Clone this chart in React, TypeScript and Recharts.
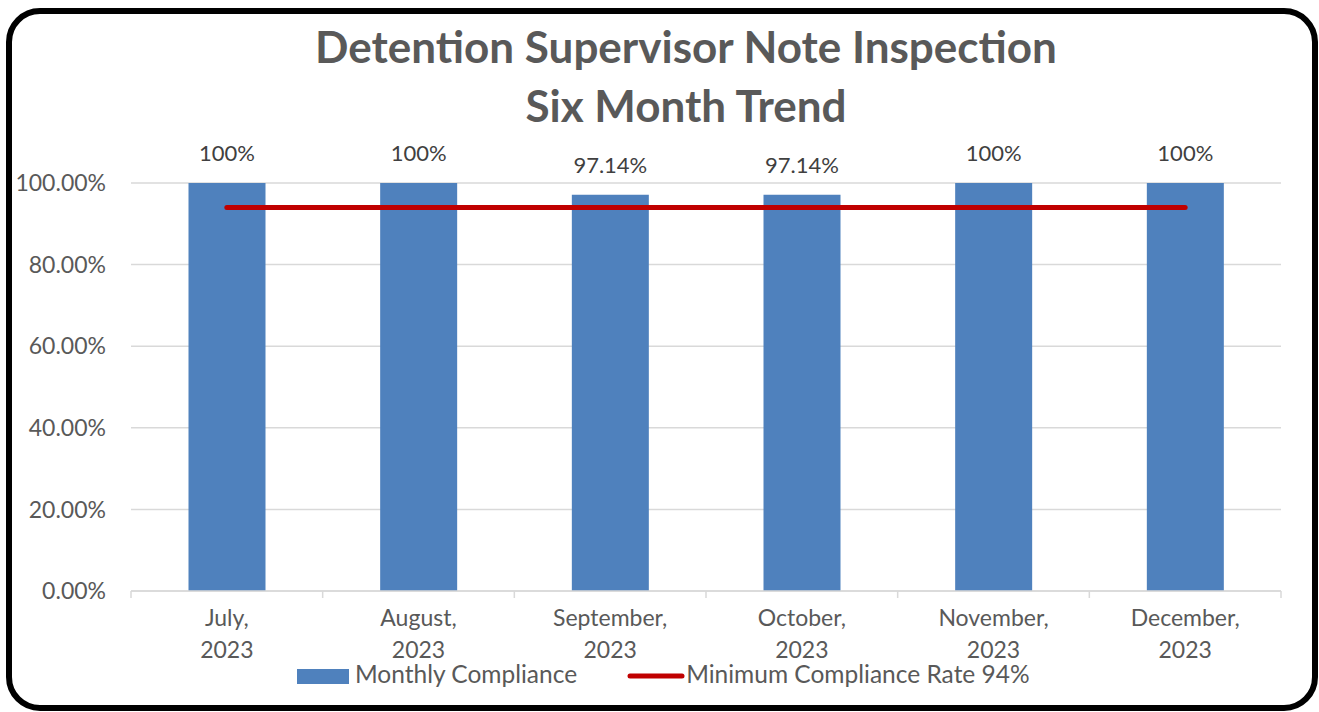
import { ComposedChart, Bar, Line, XAxis, YAxis, CartesianGrid, Legend, LabelList } from 'recharts'

const months = ['July, 2023', 'August, 2023', 'September, 2023', 'October, 2023', 'November, 2023', 'December, 2023']
const compliance = [1, 1, 0.9714, 0.9714, 1, 1]
const minimumRate = [0.94, 0.94, 0.94, 0.94, 0.94, 0.94]
const yTicks = [0, 0.2, 0.4, 0.6, 0.8, 1]

const data = months.map((m, i) => ({ month: m, compliance: compliance[i], minimum: minimumRate[i] }))

const FONT = 'Lato, "Open Sans", sans-serif'
const GRAY = '#595959'
const GRID = '#d9d9d9'

const pct2 = (v: number) => (v * 100).toFixed(2) + '%'
const dataLabel = (v: number) => (v === 1 ? '100%' : pct2(v))

function MonthTick(props: any) {
    const { x, y, payload, index, visibleTicksCount } = props
    const half = payload?.offset ?? 0
    const [first, second] = String(payload.value).split(' ')
    const isLast = index === visibleTicksCount - 1
    return (
        <g>
            <line x1={x - half} x2={x - half} y1={y} y2={y + 7} stroke={GRID} strokeWidth={1.5} />
            {isLast && <line x1={x + half} x2={x + half} y1={y} y2={y + 7} stroke={GRID} strokeWidth={1.5} />}
            <text x={x} y={y + 35} textAnchor="middle" fill={GRAY} fontSize={23} fontFamily={FONT}>{first}</text>
            <text x={x} y={y + 67} textAnchor="middle" fill={GRAY} fontSize={23} fontFamily={FONT}>{second}</text>
        </g>
    )
}

function LegendContent(props: any) {
    // bar first, then the line, like the original
    const items = [...(props.payload || [])].sort((a: any, b: any) => (a.type === 'line' ? 1 : 0) - (b.type === 'line' ? 1 : 0))
    return (
        <div style={{ display: 'flex', alignItems: 'flex-start', fontFamily: FONT, fontSize: 24.5, lineHeight: '30px', color: GRAY, whiteSpace: 'nowrap' }}>
            {items.map((item: any) => (
                <div key={item.value} style={{ display: 'flex', alignItems: 'flex-start', marginRight: 50 }}>
                    {item.type === 'line' ? (
                        <svg width={58} height={30} style={{ marginRight: 1 }}>
                            <line x1={3} x2={55} y1={17} y2={17} stroke={item.color} strokeWidth={5} strokeLinecap="round" />
                        </svg>
                    ) : (
                        <svg width={52} height={30} style={{ marginRight: 6 }}>
                            <rect x={0} y={10} width={52} height={15} fill={item.color} />
                        </svg>
                    )}
                    <span>{item.value}</span>
                </div>
            ))}
        </div>
    )
}

const titleStyle = {
    position: 'absolute' as const,
    left: 0,
    width: 1372,
    textAlign: 'center' as const,
    fontFamily: FONT,
    fontWeight: 700,
    fontSize: 44,
    lineHeight: '53px',
    color: GRAY,
    whiteSpace: 'nowrap' as const,
}

export default function App() {
    return (
        <div style={{ position: 'absolute', left: 0, top: 0, width: 1319, height: 712, background: '#fff' }}>
            <div
                style={{
                    position: 'absolute', left: 6, top: 8, width: 1312, height: 703,
                    border: '6px solid #000', borderRadius: 34, boxSizing: 'border-box',
                }}
            />
            <div style={{ ...titleStyle, top: 20 }}>Detention Supervisor Note Inspection</div>
            <div style={{ ...titleStyle, top: 79 }}>Six Month Trend</div>
            <div style={{ position: 'absolute', left: 0, top: 0 }}>
                <ComposedChart
                    width={1319}
                    height={712}
                    data={data}
                    margin={{ top: 183, right: 38, left: 0, bottom: 41 }}
                    barCategoryGap="30%"
                >
                    <CartesianGrid vertical={false} stroke={GRID} strokeWidth={1.5} />
                    <XAxis
                        dataKey="month"
                        height={80}
                        tickSize={0}
                        tickMargin={0}
                        tickLine={false}
                        axisLine={{ stroke: GRID, strokeWidth: 1.5 }}
                        tick={<MonthTick />}
                        interval={0}
                    />
                    <YAxis
                        width={131}
                        domain={[0, 1]}
                        ticks={yTicks}
                        tickFormatter={pct2}
                        tickSize={0}
                        tickMargin={25}
                        axisLine={false}
                        tickLine={false}
                        tick={{ fill: GRAY, fontSize: 23, fontFamily: FONT }}
                    />
                    <Legend
                        layout="horizontal"
                        verticalAlign="middle"
                        align="center"
                        wrapperStyle={{ left: 297, top: 659, width: 'auto' }}
                        content={<LegendContent />}
                    />
                    <Bar dataKey="compliance" name="Monthly Compliance" fill="#4f81bd" isAnimationActive={false}>
                        <LabelList
                            dataKey="compliance"
                            position="top"
                            offset={22}
                            formatter={(v: any) => dataLabel(Number(v))}
                            style={{ fill: '#404040', fontSize: 22, fontFamily: FONT }}
                        />
                    </Bar>
                    <Line
                        dataKey="minimum"
                        name="Minimum Compliance Rate 94%"
                        stroke="#c00000"
                        strokeWidth={5}
                        strokeLinecap="round"
                        dot={false}
                        activeDot={false}
                        legendType="line"
                        isAnimationActive={false}
                    />
                </ComposedChart>
            </div>
        </div>
    )
}
